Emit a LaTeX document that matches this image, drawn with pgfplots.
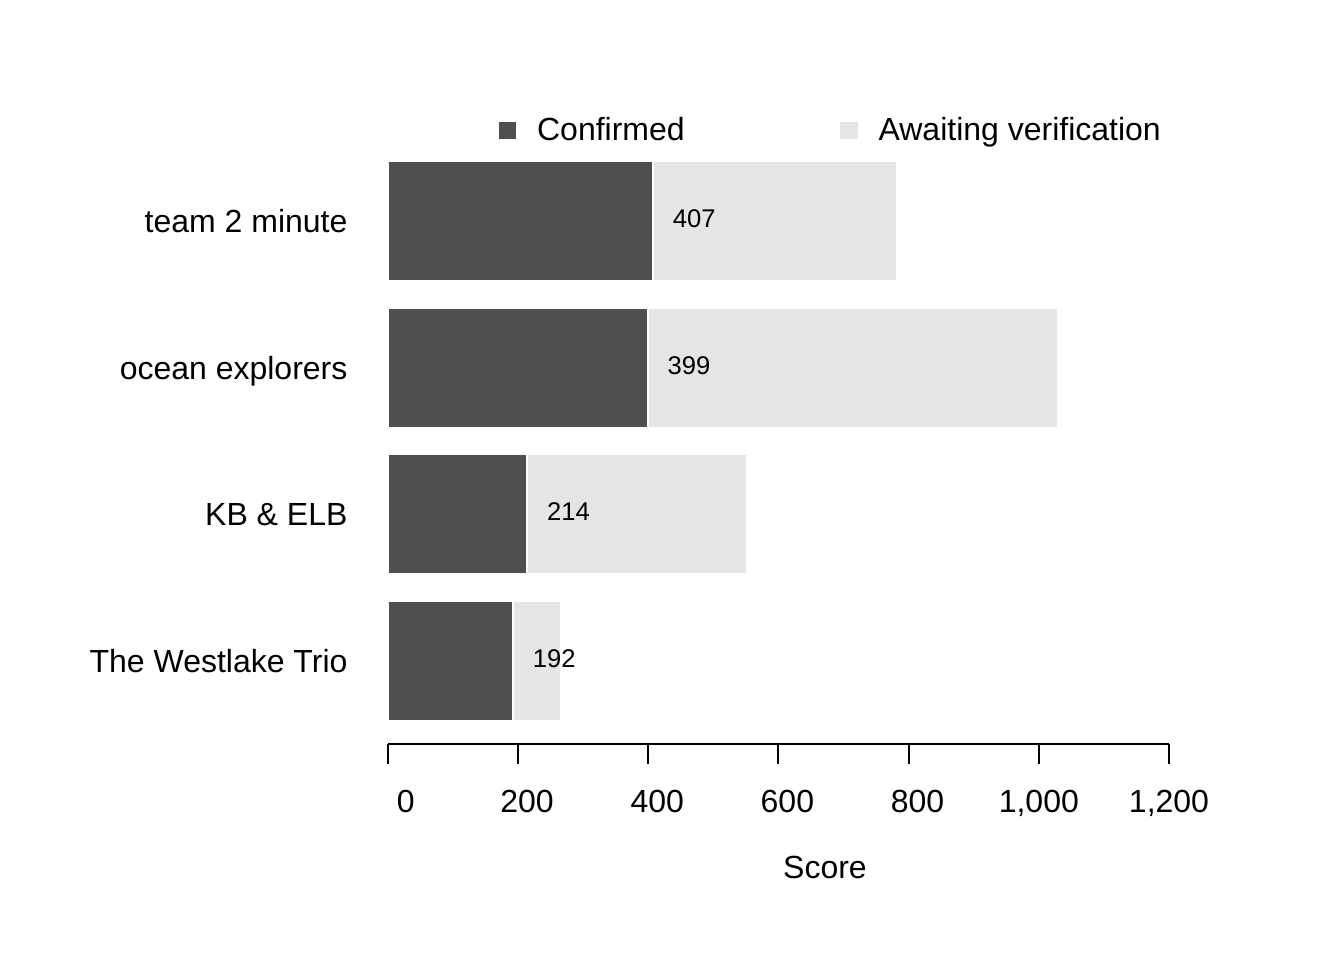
\documentclass[border=0pt]{standalone}
\usepackage{fontspec}
\setmainfont{Liberation Sans}
\usepackage{pgfplots}
\pgfplotsset{compat=1.18}
\definecolor{confirmed}{HTML}{4F4F4F}
\definecolor{awaiting}{HTML}{E5E5E5}
\pgfplotsset{sqlegend/.style={legend image code/.code={\draw[##1,draw=none] (0bp,-3.2bp) rectangle (6.4bp,3.2bp);}}}
\begin{document}
\begin{tikzpicture}[font=\fontsize{12bp}{14.4bp}\selectfont]
\begin{axis}[
  at={(0,0)}, anchor=south west,
  scale only axis, width=292.875bp, height=223.5bp,
  xbar, bar width=45bp, bar shift=0pt,
  xmin=0, xmax=1200, ymin=-0.566, ymax=3.5,
  enlargelimits=false, clip=false,
  axis x line*=bottom, axis y line*=left,
  y axis line style={draw=none},
  x axis line style={black, line width=0.75bp},
  ytick={0,1,2,3},
  yticklabels={The Westlake Trio, KB \& ELB, ocean explorers, team 2 minute},
  ytick style={draw=none},
  yticklabel style={anchor=base east, inner sep=0pt, xshift=-7.5bp, yshift=-4.3bp},
  xtick={0,200,400,600,800,1000,1200},
  xticklabels={\hspace*{1.112em}0, \hspace*{0.556em}200, \hspace*{0.556em}400, \hspace*{0.556em}600, \hspace*{0.556em}800, {1,000}, {1,200}},
  xticklabel style={anchor=base, inner sep=0pt, yshift=-18bp},
  xtick style={black, line width=0.75bp},
  tick align=outside,
  major tick length=7.5bp,
  /pgf/number format/assume math mode=true,
  xlabel={Score},
  xlabel style={at={(axis description cs:0.5595,0)}, anchor=base, inner sep=0pt, yshift=-50.5bp},
  legend columns=2,
  reverse legend,
  legend cell align=left,
  legend style={draw=none, fill=none, inner sep=0pt, outer sep=0pt,
    at={(axis description cs:0.1421,1.0286)}, anchor=west,
    nodes={inner sep=0pt},
    /tikz/every odd column/.append style={column sep=7.9bp},
    /tikz/every even column/.append style={column sep=58.4bp}},
]
% total score (confirmed + awaiting verification)
\addplot[fill=awaiting, draw=white, line width=0.75bp, sqlegend]
  coordinates {(266,0) (552,1) (1029,2) (782,3)};
\addlegendentry{Awaiting verification}
% confirmed score
\addplot[fill=confirmed, draw=white, line width=0.75bp, sqlegend,
  nodes near coords,
  nodes near coords style={text=black, anchor=west, inner sep=0pt, xshift=7.1bp, yshift=0.9bp, font=\fontsize{9.6bp}{11bp}\selectfont}]
  coordinates {(192,0) (214,1) (399,2) (407,3)};
\addlegendentry{Confirmed}
\end{axis}
\pgfresetboundingbox
\path[use as bounding box] (-145.5bp,-81bp) rectangle (358.5bp,279bp);
\end{tikzpicture}
\end{document}
